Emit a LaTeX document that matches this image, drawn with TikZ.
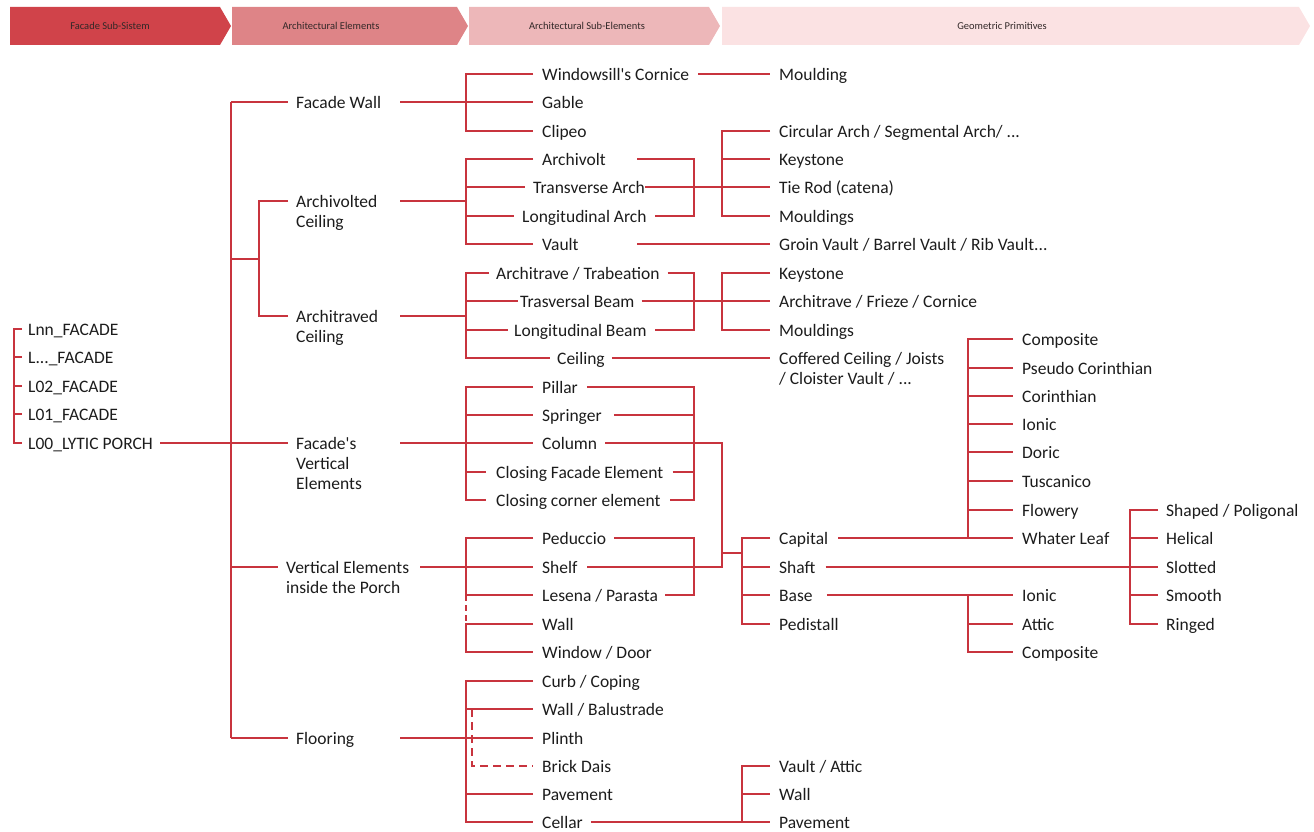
\documentclass[tikz,border=0pt]{standalone}
\usepackage{fontspec}
\setmainfont{Carlito}
\definecolor{lred}{RGB}{200,52,62}
\definecolor{hA}{RGB}{208,67,74}
\definecolor{hB}{RGB}{222,132,135}
\definecolor{hC}{RGB}{237,183,185}
\definecolor{hD}{RGB}{251,226,227}
\definecolor{txt}{RGB}{28,28,28}
\begin{document}
\begin{tikzpicture}[x=1pt,y=-1pt,
  lbl/.style={anchor=west,inner sep=0pt,text height=13.4pt,text depth=0pt,font=\fontsize{17.5}{20}\selectfont,text=txt},
  mlbl/.style={anchor=base west,inner sep=0pt,yshift=-6.7pt,font=\fontsize{17.5}{20}\selectfont,text=txt},
  hlbl/.style={inner sep=0pt,font=\fontsize{10.5}{12}\selectfont,text={rgb,255:red,50;green,40;blue,40}},
  ln/.style={draw=lred,line width=1.2pt},
  dln/.style={draw=lred,line width=1.2pt,dash pattern=on 8pt off 5pt},
  sdln/.style={draw=lred,line width=1.2pt,dash pattern=on 6pt off 4pt}]
\useasboundingbox (0,0) rectangle (1314,832);
% header
\fill[hA] (10,7) -- (220,7) -- (231,26) -- (220,45) -- (10,45) -- cycle;
\fill[hB] (232,7) -- (457,7) -- (468,26) -- (457,45) -- (232,45) -- cycle;
\fill[hC] (469,7) -- (709,7) -- (720,26) -- (709,45) -- (469,45) -- cycle;
\fill[hD] (722,7) -- (1299,7) -- (1310,26) -- (1299,45) -- (722,45) -- cycle;
\node[hlbl] (h1) at (110,26) {Facade Sub-Sistem};
\node[hlbl] (h2) at (331,26) {Architectural Elements};
\node[hlbl] (h3) at (587,26) {Architectural Sub-Elements};
\node[hlbl] (h4) at (1002,26) {Geometric Primitives};
% column coordinates
\coordinate (X14) at (14,0);
\coordinate (X231) at (231,0);
\coordinate (X400) at (400,0);
\coordinate (X466) at (466,0);
\coordinate (X472) at (472,0);
\coordinate (X637) at (637,0);
\coordinate (X694) at (694,0);
\coordinate (X722) at (722,0);
\coordinate (X742) at (742,0);
\coordinate (X968) at (968,0);
\coordinate (X1130) at (1130,0);
% level 0
\node[lbl] (lnn) at (28,329) {Lnn\_FACADE};
\node[lbl] (lx) at (28,357) {L...\_FACADE};
\node[lbl] (l02) at (28,386) {L02\_FACADE};
\node[lbl] (l01) at (28,414) {L01\_FACADE};
\node[lbl] (l00) at (28,443) {L00\_LYTIC PORCH};
% level 1
\node[lbl] (fw) at (296,102) {Facade Wall};
\node[mlbl] (avc) at (296,201) {\begin{tabular}[t]{@{}l@{}}Archivolted\\Ceiling\end{tabular}};
\node[mlbl] (atc) at (296,316) {\begin{tabular}[t]{@{}l@{}}Architraved\\Ceiling\end{tabular}};
\node[mlbl] (fve) at (296,443) {\begin{tabular}[t]{@{}l@{}}Facade\textquotesingle s\\Vertical\\Elements\end{tabular}};
\node[mlbl] (vei) at (286,567) {\begin{tabular}[t]{@{}l@{}}Vertical Elements\\inside the Porch\end{tabular}};
\node[lbl] (flo) at (296,738) {Flooring};
\coordinate (avcL) at (288,201);
\coordinate (atcL) at (288,316);
\coordinate (fveL) at (288,443);
\coordinate (veiL) at (278,567);
\coordinate (avcR) at (400,201);
\coordinate (atcR) at (400,316);
\coordinate (fveR) at (400,443);
\coordinate (veiR) at (420,567);
\coordinate (ja) at (259,259);
% level 2
\node[lbl] (wc) at (542,74) {Windowsill\textquotesingle s Cornice};
\node[lbl] (gab) at (542,102) {Gable};
\node[lbl] (cli) at (542,131) {Clipeo};
\node[lbl] (arv) at (542,159) {Archivolt};
\node[lbl] (tra) at (533,187) {Transverse Arch};
\node[lbl] (loa) at (522,216) {Longitudinal Arch};
\node[lbl] (vau) at (542,244) {Vault};
\node[lbl] (atr) at (496,273) {Architrave / Trabeation};
\node[lbl] (trb) at (520,301) {Trasversal Beam};
\node[lbl] (lob) at (514,330) {Longitudinal Beam};
\node[lbl] (cei) at (557,358) {Ceiling};
\node[lbl] (pil) at (542,387) {Pillar};
\node[lbl] (spr) at (542,415) {Springer};
\node[lbl] (col) at (542,443) {Column};
\node[lbl] (cfe) at (496,472) {Closing Facade Element};
\node[lbl] (cce) at (496,500) {Closing corner element};
\node[lbl] (ped) at (542,538) {Peduccio};
\node[lbl] (she) at (542,567) {Shelf};
\node[lbl] (les) at (542,595) {Lesena / Parasta};
\node[lbl] (wal) at (542,624) {Wall};
\node[lbl] (wd) at (542,652) {Window / Door};
\node[lbl] (cur) at (542,681) {Curb / Coping};
\node[lbl] (wba) at (542,709) {Wall / Balustrade};
\node[lbl] (pli) at (542,738) {Plinth};
\node[lbl] (bri) at (542,766) {Brick Dais};
\node[lbl] (pav) at (542,794) {Pavement};
\node[lbl] (cel) at (542,822) {Cellar};
% level 3
\node[lbl] (mou) at (779,74) {Moulding};
\node[lbl] (cir) at (779,131) {Circular Arch / Segmental Arch/ ...};
\node[lbl] (key1) at (779,159) {Keystone};
\node[lbl] (tie) at (779,187) {Tie Rod (catena)};
\node[lbl] (mls1) at (779,216) {Mouldings};
\node[lbl] (gv) at (779,244) {Groin Vault / Barrel Vault / Rib Vault...};
\node[lbl] (key2) at (779,273) {Keystone};
\node[lbl] (afc) at (779,301) {Architrave / Frieze / Cornice};
\node[lbl] (mls2) at (779,330) {Mouldings};
\node[mlbl] (cof) at (779,358) {\begin{tabular}[t]{@{}l@{}}Coffered Ceiling / Joists\\/ Cloister Vault / ...\end{tabular}};
\coordinate (cofL) at (770,358);
\node[lbl] (cap) at (779,538) {Capital};
\node[lbl] (sha) at (779,567) {Shaft};
\node[lbl] (bas) at (779,595) {Base};
\node[lbl] (pdl) at (779,624) {Pedistall};
\node[lbl] (vat) at (779,766) {Vault / Attic};
\node[lbl] (wl2) at (779,794) {Wall};
\node[lbl] (pv2) at (779,822) {Pavement};
\coordinate (jc) at (742,553);
% level 4
\node[lbl] (cmp1) at (1022,339) {Composite};
\node[lbl] (psc) at (1022,368) {Pseudo Corinthian};
\node[lbl] (cor) at (1022,396) {Corinthian};
\node[lbl] (ion1) at (1022,424) {Ionic};
\node[lbl] (dor) at (1022,452) {Doric};
\node[lbl] (tus) at (1022,481) {Tuscanico};
\node[lbl] (flw) at (1022,510) {Flowery};
\node[lbl] (whl) at (1022,538) {Whater Leaf};
\node[lbl] (ion2) at (1022,595) {Ionic};
\node[lbl] (att) at (1022,624) {Attic};
\node[lbl] (cmp2) at (1022,652) {Composite};
% level 5
\node[lbl] (shp) at (1166,510) {Shaped / Poligonal};
\node[lbl] (hel) at (1166,538) {Helical};
\node[lbl] (slo) at (1166,567) {Slotted};
\node[lbl] (smo) at (1166,595) {Smooth};
\node[lbl] (rin) at (1166,624) {Ringed};

% ---------- connectors ----------
% level 0 bracket
\draw[ln] ([xshift=-6pt]lnn.west) -| (X14 |- l00.west) -- ([xshift=-6pt]l00.west);
\draw[ln] (X14 |- lx.west) -- ([xshift=-6pt]lx.west);
\draw[ln] (X14 |- l02.west) -- ([xshift=-6pt]l02.west);
\draw[ln] (X14 |- l01.west) -- ([xshift=-6pt]l01.west);
\draw[ln] ([xshift=7pt]l00.east) -- (fveL);
% main spine
\draw[ln] (X231 |- fw.west) -- (X231 |- flo.west);
\draw[ln] (X231 |- fw.west) -- ([xshift=-8pt]fw.west);
\draw[ln] (X231 |- ja) -- (ja);
\draw[ln] (avcL) -| (ja);
\draw[ln] (atcL) -| (ja);
\draw[ln] (X231 |- veiL) -- (veiL);
\draw[ln] (X231 |- flo.west) -- ([xshift=-8pt]flo.west);
% facade wall group
\draw[ln] (X400 |- fw.east) -- ([xshift=-9pt]gab.west);
\draw[ln] ([xshift=-9pt]wc.west) -| (X466 |- cli.west) -- ([xshift=-9pt]cli.west);
\draw[ln] ([xshift=9pt]wc.east) -- ([xshift=-9pt]mou.west);
% archivolted group
\draw[ln] (avcR) -- (X466 |- avcR);
\draw[ln] ([xshift=-9pt]arv.west) -| (X466 |- vau.west) -- ([xshift=-9pt]vau.west);
\draw[ln] (X466 |- tra.west) -- ([xshift=-8pt]tra.west);
\draw[ln] (X466 |- loa.west) -- ([xshift=-8pt]loa.west);
\draw[ln] (X637 |- arv.east) -| (X694 |- loa.east) -- ([xshift=8pt]loa.east);
\draw[ln] (tra.east) -- (X722 |- tra.east);
\draw[ln] ([xshift=-9pt]cir.west) -| (X722 |- mls1.west) -- ([xshift=-9pt]mls1.west);
\draw[ln] (X722 |- key1.west) -- ([xshift=-9pt]key1.west);
\draw[ln] (X722 |- tie.west) -- ([xshift=-9pt]tie.west);
\draw[ln] (X637 |- vau.east) -- ([xshift=-9pt]gv.west);
% architraved group
\draw[ln] (atcR) -- (X466 |- atcR);
\draw[ln] ([xshift=-7pt]atr.west) -| (X466 |- cei.west) -- ([xshift=-7pt]cei.west);
\draw[ln] (X466 |- trb.west) -- ([xshift=-2pt]trb.west);
\draw[ln] (X466 |- lob.west) -- ([xshift=-6pt]lob.west);
\draw[ln] ([xshift=8pt]atr.east) -| (X694 |- lob.east) -- ([xshift=8pt]lob.east);
\draw[ln] ([xshift=7pt]trb.east) -- (X722 |- trb.east);
\draw[ln] ([xshift=-9pt]key2.west) -| (X722 |- mls2.west) -- ([xshift=-9pt]mls2.west);
\draw[ln] (X722 |- afc.west) -- ([xshift=-9pt]afc.west);
\draw[ln] ([xshift=7pt]cei.east) -- (cofL);
% facade's vertical group
\draw[ln] (fveR) -- ([xshift=-9pt]col.west);
\draw[ln] ([xshift=-9pt]pil.west) -| (X466 |- cce.west) -- ([xshift=-10pt]cce.west);
\draw[ln] (X466 |- spr.west) -- ([xshift=-9pt]spr.west);
\draw[ln] (X466 |- cfe.west) -- ([xshift=-10pt]cfe.west);
\draw[ln] ([xshift=9pt]pil.east) -| (X694 |- cce.east) -- ([xshift=9pt]cce.east);
\draw[ln] ([xshift=12pt]spr.east) -- (X694 |- spr.east);
\draw[ln] ([xshift=9pt]cfe.east) -- (X694 |- cfe.east);
\draw[ln] ([xshift=8pt]col.east) -| (X722 |- she.east) -- ([xshift=9pt]she.east);
% vertical elements inside group
\draw[ln] (veiR) -- ([xshift=-9pt]she.west);
\draw[ln] ([xshift=-9pt]ped.west) -| (X466 |- les.west) -- ([xshift=-9pt]les.west);
\draw[sdln] (X466 |- les.west) -- (X466 |- wal.west);
\draw[ln] ([xshift=-9pt]wal.west) -| (X466 |- wd.west) -- ([xshift=-9pt]wd.west);
\draw[ln] ([xshift=8pt]ped.east) -| (X694 |- les.east) -- ([xshift=7pt]les.east);
% column sub-tree
\draw[ln] (X722 |- jc) -- (jc);
\draw[ln] ([xshift=-9pt]cap.west) -| (X742 |- pdl.west) -- ([xshift=-9pt]pdl.west);
\draw[ln] (X742 |- sha.west) -- ([xshift=-9pt]sha.west);
\draw[ln] (X742 |- bas.west) -- ([xshift=-9pt]bas.west);
\draw[ln] ([xshift=10pt]cap.east) -- ([xshift=-9pt]whl.west);
\draw[ln] ([xshift=-9pt]cmp1.west) -| (X968 |- whl.west);
\draw[ln] (X968 |- psc.west) -- ([xshift=-9pt]psc.west);
\draw[ln] (X968 |- cor.west) -- ([xshift=-9pt]cor.west);
\draw[ln] (X968 |- ion1.west) -- ([xshift=-9pt]ion1.west);
\draw[ln] (X968 |- dor.west) -- ([xshift=-9pt]dor.west);
\draw[ln] (X968 |- tus.west) -- ([xshift=-9pt]tus.west);
\draw[ln] (X968 |- flw.west) -- ([xshift=-9pt]flw.west);
\draw[ln] ([xshift=10pt]sha.east) -- ([xshift=-8pt]slo.west);
\draw[ln] ([xshift=-8pt]shp.west) -| (X1130 |- rin.west) -- ([xshift=-8pt]rin.west);
\draw[ln] (X1130 |- hel.west) -- ([xshift=-8pt]hel.west);
\draw[ln] (X1130 |- smo.west) -- ([xshift=-8pt]smo.west);
\draw[ln] ([xshift=14pt]bas.east) -- ([xshift=-9pt]ion2.west);
\draw[ln] (X968 |- ion2.west) -- (X968 |- cmp2.west) -- ([xshift=-9pt]cmp2.west);
\draw[ln] (X968 |- att.west) -- ([xshift=-9pt]att.west);
% flooring group
\draw[ln] (X400 |- flo.east) -- ([xshift=-9pt]pli.west);
\draw[ln] ([xshift=-9pt]cur.west) -| (X466 |- cel.west) -- ([xshift=-9pt]cel.west);
\draw[ln] (X466 |- wba.west) -- ([xshift=-9pt]wba.west);
\draw[ln] (X466 |- pav.west) -- ([xshift=-9pt]pav.west);
\draw[dln] (X472 |- wba.west) -- (X472 |- bri.west) -- ([xshift=-9pt]bri.west);
\draw[ln] ([xshift=8pt]cel.east) -- ([xshift=-9pt]pv2.west);
\draw[ln] ([xshift=-9pt]vat.west) -| (X742 |- pv2.west);
\draw[ln] (X742 |- wl2.west) -- ([xshift=-9pt]wl2.west);
\end{tikzpicture}
\end{document}
